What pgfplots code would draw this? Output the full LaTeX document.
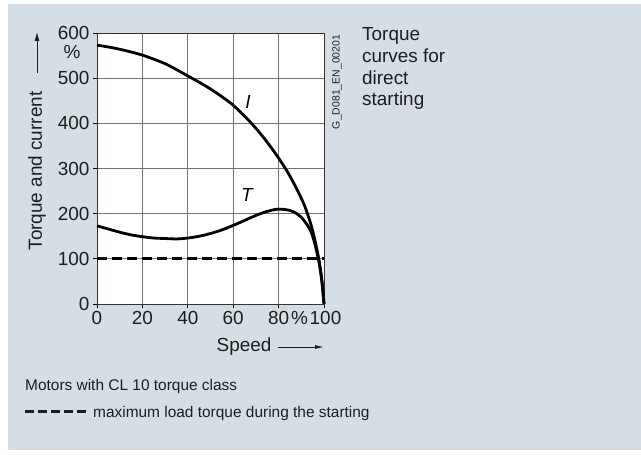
\documentclass[border=0pt]{standalone}
\usepackage{pgfplots}
\pgfplotsset{compat=1.18}
\usepackage{fontspec}
\setmainfont{Liberation Sans}
\usetikzlibrary{arrows.meta}
\definecolor{panel}{RGB}{212,222,228}
\definecolor{gridgray}{RGB}{115,115,115}
\definecolor{txt}{RGB}{30,30,30}
\newcommand\bigfont{\fontsize{19}{22}\selectfont}
\newcommand\smallfont{\fontsize{15.5}{18}\selectfont}
\begin{document}
\begin{tikzpicture}[x=1bp,y=1bp]
\path[use as bounding box] (0,0) rectangle (641,455);
\fill[white] (0,0) rectangle (641,455);
\fill[panel] (8,5) rectangle (641,451);

\begin{axis}[
    at={(97bp,151bp)}, anchor=south west,
    scale only axis,
    width=227bp, height=271bp,
    xmin=0, xmax=100, ymin=0, ymax=600,
    xtick={0,20,40,60,80,100},
    xticklabels={0,20,40,60,80\rlap{\kern2bp\%},\kern3bp100},
    ytick={0,100,200,300,400,500,600},
    tick align=outside,
    xtick pos=bottom, ytick pos=left,
    major tick length=4bp,
    tick style={black, line width=0.8bp},
    ticklabel style={font=\bigfont, text=txt},
    /pgf/number format/assume math mode=true,
    grid=major,
    grid style={gridgray, line width=0.9bp},
    axis line style={black!80, line width=0.9bp},
    axis background/.style={fill=white},
    clip=false,
]
% current I
\addplot[black, line width=2.8bp, smooth, tension=0.6] coordinates {
  (0,573) (5,569) (10,564) (15,558) (20,551) (25,542) (30,532) (35,519)
  (40,505) (45,491) (50,476) (55,459) (60,440) (65,416) (70,389)
  (75,358) (80,323) (85,283) (90,234) (92.5,203) (95,162) (97.5,105)
  (99,55) (100,0)
};
% torque T
\addplot[black, line width=2.8bp, smooth, tension=0.6] coordinates {
  (0,173) (5,166) (10,159) (15,153) (20,149) (25,146) (30,145) (35,144)
  (40,146) (45,150) (50,156) (55,164) (60,174) (65,185) (70,196)
  (75,205) (80,210) (85,207) (88,200) (90,192) (93,172) (95,150)
  (97.5,100) (99,52) (100,0)
};
% maximum load torque
\addplot[black, line width=3bp, dash pattern=on 10bp off 5bp] coordinates {
  (0,100) (100,100)
};
\node[font=\bigfont\itshape] at (axis cs:66.5,447) {I};
\node[font=\bigfont\itshape] at (axis cs:66,241) {T};
\node[font=\bigfont, text=txt] at (axis cs:-11,557) {\%};
\end{axis}

% y label with arrow
\node[rotate=90, font=\bigfont, text=txt] at (37,284) {Torque and current};
\draw[-{Latex[length=9bp,width=5bp]}, line width=0.9bp, txt] (37,382) -- (37,423);
% x label with arrow
\node[font=\bigfont, text=txt, anchor=base] at (244,103) {Speed};
\draw[-{Latex[length=9bp,width=4bp]}, line width=0.9bp, txt] (278,108) -- (324,108);

% side notes
\node[rotate=90, font=\fontsize{10.5}{12}\selectfont, text=txt] at (337,373) {G\_D081\_EN\_00201};
\node[anchor=north west, align=left, font=\bigfont, text=txt,
      inner sep=0pt] at (362,428) {\baselineskip=21.5bp Torque\\curves for\\direct\\starting};

% bottom notes
\node[anchor=base west, font=\smallfont, text=txt, inner sep=0pt] at (25,64) {Motors with CL 10 torque class};
\draw[line width=3bp, txt, dash pattern=on 9bp off 4bp] (25,43) -- (86,43);
\node[anchor=base west, font=\smallfont, text=txt, inner sep=0pt] at (93,37) {maximum load torque during the starting};
\end{tikzpicture}
\end{document}
